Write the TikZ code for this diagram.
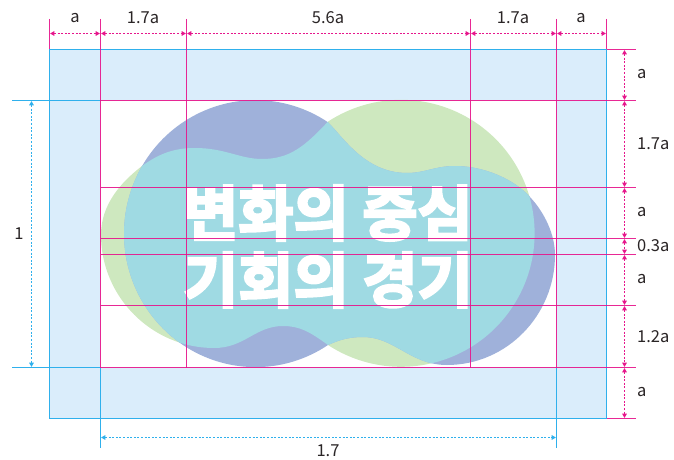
\documentclass[tikz,border=0pt]{standalone}
\usepackage{fontspec}
\usetikzlibrary{arrows.meta}
\setmainfont{Noto Sans CJK KR}
\newfontfamily\headfont[FakeBold=4]{Noto Sans CJK KR Bold}
\definecolor{mag}{HTML}{E6168C}
\definecolor{cyn}{HTML}{2FB0EC}
\definecolor{band}{HTML}{DAEDFB}
\definecolor{grn}{HTML}{CEE8BF}
\definecolor{pur}{HTML}{9FB1DA}
\definecolor{tea}{HTML}{9FDAE3}
\definecolor{ink}{HTML}{2A2526}
\tikzset{
  mline/.style={draw=mag,line width=1.05pt,opacity=0.92},
  cline/.style={draw=cyn,line width=1.05pt},
  mdim/.style={draw=mag,line width=0.9pt,dash pattern=on 2pt off 1.6pt,{Triangle[length=4.2pt,width=4.6pt,sep=0.6pt]}-{Triangle[length=4.2pt,width=4.6pt,sep=0.6pt]}},
  cdim/.style={draw=cyn,line width=0.9pt,dash pattern=on 2pt off 1.6pt,{Triangle[length=4.2pt,width=4.6pt,sep=0.6pt]}-{Triangle[length=4.2pt,width=4.6pt,sep=0.6pt]}},
  lab/.style={text=ink,font=\fontsize{16.5}{16.5}\selectfont,inner sep=0pt},
  rlab/.style={lab,anchor=west},
  head/.style={text=white,inner sep=0pt,font=\headfont\fontsize{60}{60}\selectfont},
}
\def\shapeG{(328,345) arc[start angle=123.2,end angle=-123.2,radius=133.5]
 .. controls (305,146) and (290,159) .. (262,159)
 .. controls (240,159) and (225,148) .. (195,148)
 .. controls (175,148) and (160,153) .. (142,166)
 .. controls (120,183) and (101,205) .. (101,235)
 .. controls (101,297) and (152,348) .. (214,348)
 .. controls (245,348) and (255,326) .. (283,326)
 .. controls (300,326) and (310,332) .. (328,345) -- cycle}
\def\shapeP{(328,345) arc[start angle=56.55,end angle=303.45,x radius=131.5,y radius=133.5]
 .. controls (343,137) and (365,173) .. (407,173)
 .. controls (425,173) and (435,166) .. (455,166)
 .. controls (485,166) and (515,180) .. (530,197)
 .. controls (545,213) and (555,235) .. (555,255)
 .. controls (555,315) and (507,365) .. (447,365)
 .. controls (410,365) and (395,337) .. (363,337)
 .. controls (345,337) and (335,342) .. (328,345) -- cycle}
\begin{document}
\begin{tikzpicture}[x=1pt,y=-1pt]
\useasboundingbox (0,0) rectangle (674,460);
% grid coordinates
\foreach \n/\x in {A/49.5,B/100.5,C/186.5,D/470.5,E/556.5,F/606.5}{
  \coordinate (\n t) at (\x,19);
  \coordinate (\n u) at (\x,33.5);
  \coordinate (\n o) at (\x,49.5);
  \coordinate (\n h) at (\x,100.5);
  \coordinate (\n v) at (\x,367.5);
  \coordinate (\n w) at (\x,418.5);
  \coordinate (\n d) at (\x,437.5);
  \coordinate (\n z) at (\x,448);
}
\foreach \n/\y in {o/49.5,h/100.5,i/187.5,j/238.5,k/254.5,l/305.5,v/367.5,w/418.5}{
  \coordinate (R\n) at (636,\y);
  \coordinate (S\n) at (624.5,\y);
  \coordinate (B\n) at (100.5,\y);
}
\coordinate (Lh) at (12,100.5);
\coordinate (Lv) at (12,367.5);
\coordinate (Mh) at (31.5,100.5);
\coordinate (Mv) at (31.5,367.5);
% frame band
\fill[band,even odd rule] (Ao) rectangle (Fw) (Bh) rectangle (Ev);
% blobs
\fill[grn] \shapeG;
\fill[pur] \shapeP;
\begin{scope}
  \clip \shapeP;
  \fill[tea] \shapeG;
\end{scope}
% title
\node[head] (t1) at (328,213) {변화의 중심};
\node[head] (t2) at (328,280) {기회의 경기};
% frame outline and cyan lines
\draw[cline] (Ao) rectangle (Fw);
\draw[cline] (Lh) -- (Bh);
\draw[cline] (Lv) -- (Bv);
\draw[cline] (Bv) -- (Bz);
\draw[cline] (Ev) -- (Ez);
% magenta lines
\draw[mline] (At) -- (Ao);
\draw[mline] (Ft) -- (Fo);
\draw[mline] (Bt) -- (Bv);
\draw[mline] (Ct) -- (Cv);
\draw[mline] (Dt) -- (Dv);
\draw[mline] (Et) -- (Ev);
\draw[mline] (Fo) -- (Ro);
\draw[mline] (Fw) -- (Rw);
\foreach \n in {h,i,j,k,l,v}{ \draw[mline] (B\n) -- (R\n); }
% dimensions
\draw[mdim] (Au) -- (Bu);
\draw[mdim] (Bu) -- (Cu);
\draw[mdim] (Cu) -- (Du);
\draw[mdim] (Du) -- (Eu);
\draw[mdim] (Eu) -- (Fu);
\draw[mdim] (So) -- (Sh);
\draw[mdim] (Sh) -- (Si);
\draw[mdim] (Si) -- (Sj);
\draw[mdim] (Sj) -- (Sk);
\draw[mdim] (Sk) -- (Sl);
\draw[mdim] (Sl) -- (Sv);
\draw[mdim] (Sv) -- (Sw);
\draw[cdim] (Mh) -- (Mv);
\draw[cdim] (Bd) -- (Ed);
% labels
\node[lab] (l1) at (75,18) {a};
\node[lab] (l2) at (143,18) {1.7a};
\node[lab] (l3) at (328,18) {5.6a};
\node[lab] (l4) at (513,18) {1.7a};
\node[lab] (l5) at (581,18) {a};
\node[rlab] (r1) at (637,74) {a};
\node[rlab] (r2) at (637,144) {1.7a};
\node[rlab] (r3) at (637,212) {a};
\node[rlab] (r4) at (637,246) {0.3a};
\node[rlab] (r5) at (637,279) {a};
\node[rlab] (r6) at (637,337) {1.2a};
\node[rlab] (r7) at (637,392) {a};
\node[lab] (l6) at (19,234) {1};
\node[lab] (l7) at (328,451) {1.7};
\end{tikzpicture}
\end{document}
